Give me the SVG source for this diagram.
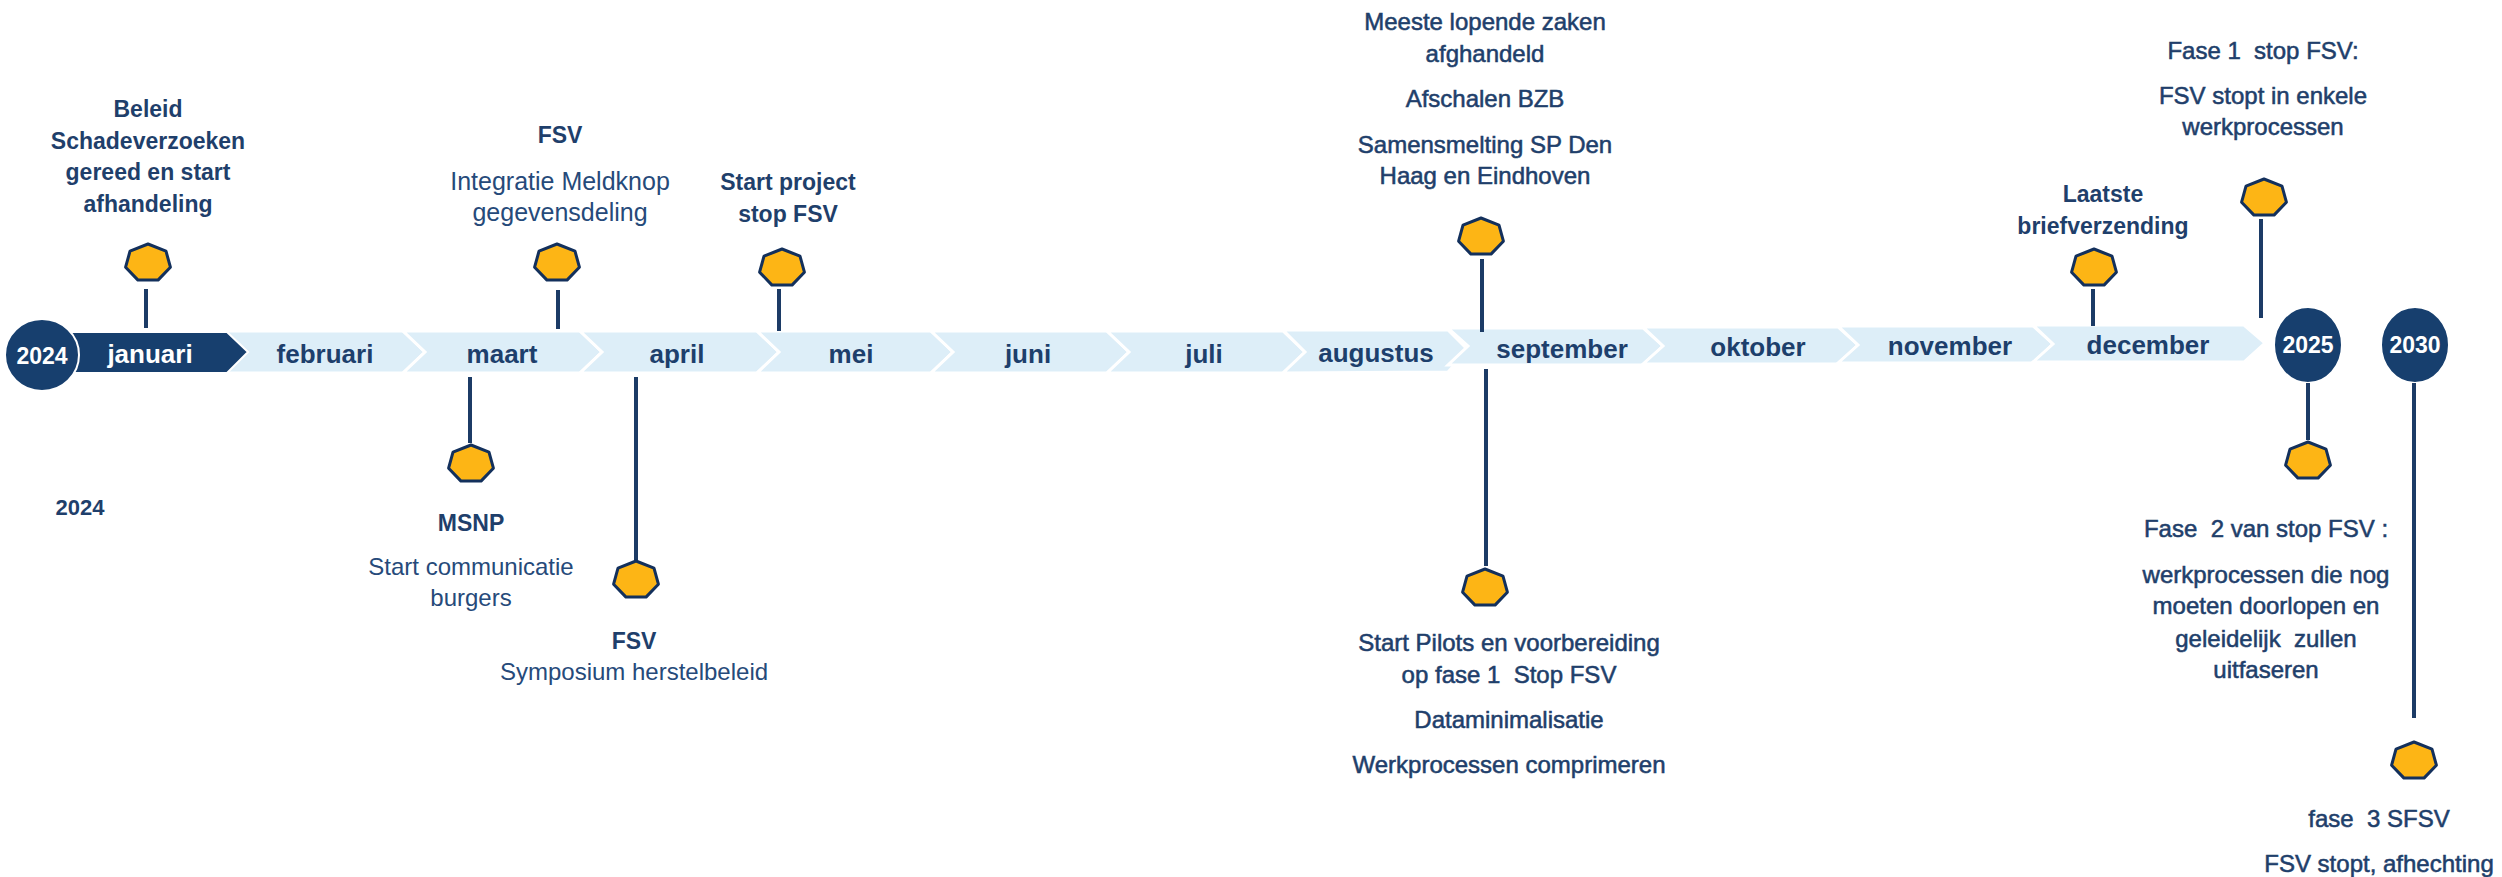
<svg xmlns="http://www.w3.org/2000/svg" xmlns:xlink="http://www.w3.org/1999/xlink" width="2502" height="877" viewBox="0 0 2502 877">
<style>
text{font-family:"Liberation Sans",Arial,sans-serif;fill:#1f3f6b;text-anchor:middle}
.b{font-weight:bold;font-size:23px}
.r{font-size:24px;fill:#264a7a}
.m{font-size:24px;stroke:#1f3f6b;stroke-width:0.55}
.mon{font-weight:bold;font-size:26px;fill:#1d3f6c}
.w{fill:#ffffff;font-weight:bold}
.chev{fill:#ddeef8;stroke:#ffffff;stroke-width:3}
.dark{fill:#173f6e}
.yr{fill:#173f6e;stroke:#ffffff;stroke-width:2}
.ln{stroke:#1c3b66;stroke-width:4;fill:none}
.hx{fill:#fdb515;stroke:#13305c;stroke-width:3;stroke-linejoin:round}
</style>
<defs>
<polygon id="hx" class="hx" points="0,-19 18,-11.8 22.4,4.2 10,17.1 -10,17.1 -22.4,4.2 -18,-11.8"/>
</defs>
<rect width="2502" height="877" fill="#ffffff"/>

<g id="timeline">
<polygon class="chev" points="225,331 403,331 425,352 403,373 225,373 247,352"/>
<polygon class="chev" points="403,331 580,331 602,352 580,373 403,373 425,352"/>
<polygon class="chev" points="580,331 757,331 779,352 757,373 580,373 602,352"/>
<polygon class="chev" points="757,331 931,331 953,352 931,373 757,373 779,352"/>
<polygon class="chev" points="931,331 1107,331 1129,352 1107,373 931,373 953,352"/>
<polygon class="chev" points="1107,331 1283,331 1305,352 1283,373 1107,373 1129,352"/>
<polygon class="chev" points="1283,330 1448,330 1468,350 1448,372 1283,373 1305,352"/>
<polygon class="chev" points="1448,328 1643,328 1663,346 1643,365 1448,365 1468,346"/>
<polygon class="chev" points="1643,327 1838,327 1858,345 1838,364 1643,364 1663,346"/>
<polygon class="chev" points="1838,326 2033,326 2053,344 2033,363 1838,363 1858,345"/>
<polygon class="chev" points="2033,325 2244,325 2265,343 2244,362 2033,362 2053,344"/>
<polygon class="dark" points="60,332 227,332 248,352 227,373 60,373" stroke="#ffffff" stroke-width="2"/>
<text class="mon" x="325" y="363">februari</text>
<text class="mon" x="502" y="363">maart</text>
<text class="mon" x="677" y="363">april</text>
<text class="mon" x="851" y="363">mei</text>
<text class="mon" x="1028" y="363">juni</text>
<text class="mon" x="1204" y="363">juli</text>
<text class="mon" x="1376" y="362">augustus</text>
<text class="mon" x="1562" y="358">september</text>
<text class="mon" x="1758" y="356">oktober</text>
<text class="mon" x="1950" y="355">november</text>
<text class="mon" x="2148" y="354">december</text>
<text class="mon w" x="150" y="363" style="fill:#ffffff">januari</text>
</g>

<g id="year-2024">
<ellipse class="yr" cx="42" cy="355" rx="37" ry="36"/>
<text class="w" x="42" y="364" style="font-size:23px;fill:#ffffff">2024</text>
</g>
<g id="year-2025">
<ellipse class="yr" cx="2308" cy="345" rx="34" ry="38"/>
<text class="w" x="2308" y="353" style="font-size:23px;fill:#ffffff">2025</text>
</g>
<g id="year-2030">
<ellipse class="yr" cx="2415" cy="345" rx="34" ry="38"/>
<text class="w" x="2415" y="353" style="font-size:23px;fill:#ffffff">2030</text>
</g>

<g id="label-2024">
<text class="b" x="80" y="515" style="font-size:22px">2024</text>
</g>

<g id="connectors">
<line class="ln" x1="146" y1="289" x2="146" y2="328"/>
<line class="ln" x1="558" y1="290" x2="558" y2="329"/>
<line class="ln" x1="779" y1="289" x2="779" y2="331"/>
<line class="ln" x1="1482" y1="259" x2="1482" y2="332"/>
<line class="ln" x1="2093" y1="289" x2="2093" y2="326"/>
<line class="ln" x1="2261" y1="219" x2="2261" y2="318"/>
<line class="ln" x1="470" y1="377" x2="470" y2="443"/>
<line class="ln" x1="636" y1="377" x2="636" y2="560"/>
<line class="ln" x1="1486" y1="369" x2="1486" y2="566"/>
<line class="ln" x1="2308" y1="383" x2="2308" y2="440"/>
<line class="ln" x1="2414" y1="383" x2="2414" y2="718"/>
</g>

<g id="m-beleid">
<use xlink:href="#hx" href="#hx" x="148" y="263"/>
<text class="b" x="148" y="117">Beleid</text>
<text class="b" x="148" y="149">Schadeverzoeken</text>
<text class="b" x="148" y="180">gereed en start</text>
<text class="b" x="148" y="212">afhandeling</text>
</g>

<g id="m-fsv-meldknop">
<use xlink:href="#hx" href="#hx" x="557" y="263"/>
<text class="b" x="560" y="143">FSV</text>
<text class="r" x="560" y="190" style="font-size:25px">Integratie Meldknop</text>
<text class="r" x="560" y="221" style="font-size:25px">gegevensdeling</text>
</g>

<g id="m-start-project">
<use xlink:href="#hx" href="#hx" x="782" y="268"/>
<text class="b" x="788" y="190">Start project</text>
<text class="b" x="788" y="222">stop FSV</text>
</g>

<g id="m-september-top">
<use xlink:href="#hx" href="#hx" x="1481" y="237"/>
<text class="m" x="1485" y="30">Meeste lopende zaken</text>
<text class="m" x="1485" y="62">afghandeld</text>
<text class="m" x="1485" y="107">Afschalen BZB</text>
<text class="m" x="1485" y="153">Samensmelting SP Den</text>
<text class="m" x="1485" y="184">Haag en Eindhoven</text>
</g>

<g id="m-laatste">
<use xlink:href="#hx" href="#hx" x="2094" y="268"/>
<text class="b" x="2103" y="202">Laatste</text>
<text class="b" x="2103" y="234">briefverzending</text>
</g>

<g id="m-fase1">
<use xlink:href="#hx" href="#hx" x="2264" y="198"/>
<text class="m" x="2263" y="59" xml:space="preserve">Fase 1  stop FSV:</text>
<text class="m" x="2263" y="104">FSV stopt in enkele</text>
<text class="m" x="2263" y="135">werkprocessen</text>
</g>

<g id="m-msnp">
<use xlink:href="#hx" href="#hx" x="471" y="464"/>
<text class="b" x="471" y="531">MSNP</text>
<text class="r" x="471" y="575">Start communicatie</text>
<text class="r" x="471" y="606">burgers</text>
</g>

<g id="m-fsv-symposium">
<use xlink:href="#hx" href="#hx" x="636" y="580"/>
<text class="b" x="634" y="649">FSV</text>
<text class="r" x="634" y="680">Symposium herstelbeleid</text>
</g>

<g id="m-pilots">
<use xlink:href="#hx" href="#hx" x="1485" y="588"/>
<text class="m" x="1509" y="651">Start Pilots en voorbereiding</text>
<text class="m" x="1509" y="683" xml:space="preserve">op fase 1  Stop FSV</text>
<text class="m" x="1509" y="728">Dataminimalisatie</text>
<text class="m" x="1509" y="773">Werkprocessen comprimeren</text>
</g>

<g id="m-fase2">
<use xlink:href="#hx" href="#hx" x="2308" y="461"/>
<text class="m" x="2266" y="537" xml:space="preserve">Fase  2 van stop FSV :</text>
<text class="m" x="2266" y="583">werkprocessen die nog</text>
<text class="m" x="2266" y="614">moeten doorlopen en</text>
<text class="m" x="2266" y="647" xml:space="preserve">geleidelijk  zullen</text>
<text class="m" x="2266" y="678">uitfaseren</text>
</g>

<g id="m-fase3">
<use xlink:href="#hx" href="#hx" x="2414" y="761"/>
<text class="m" x="2379" y="827" xml:space="preserve">fase  3 SFSV</text>
<text class="m" x="2379" y="872">FSV stopt, afhechting</text>
</g>
</svg>
